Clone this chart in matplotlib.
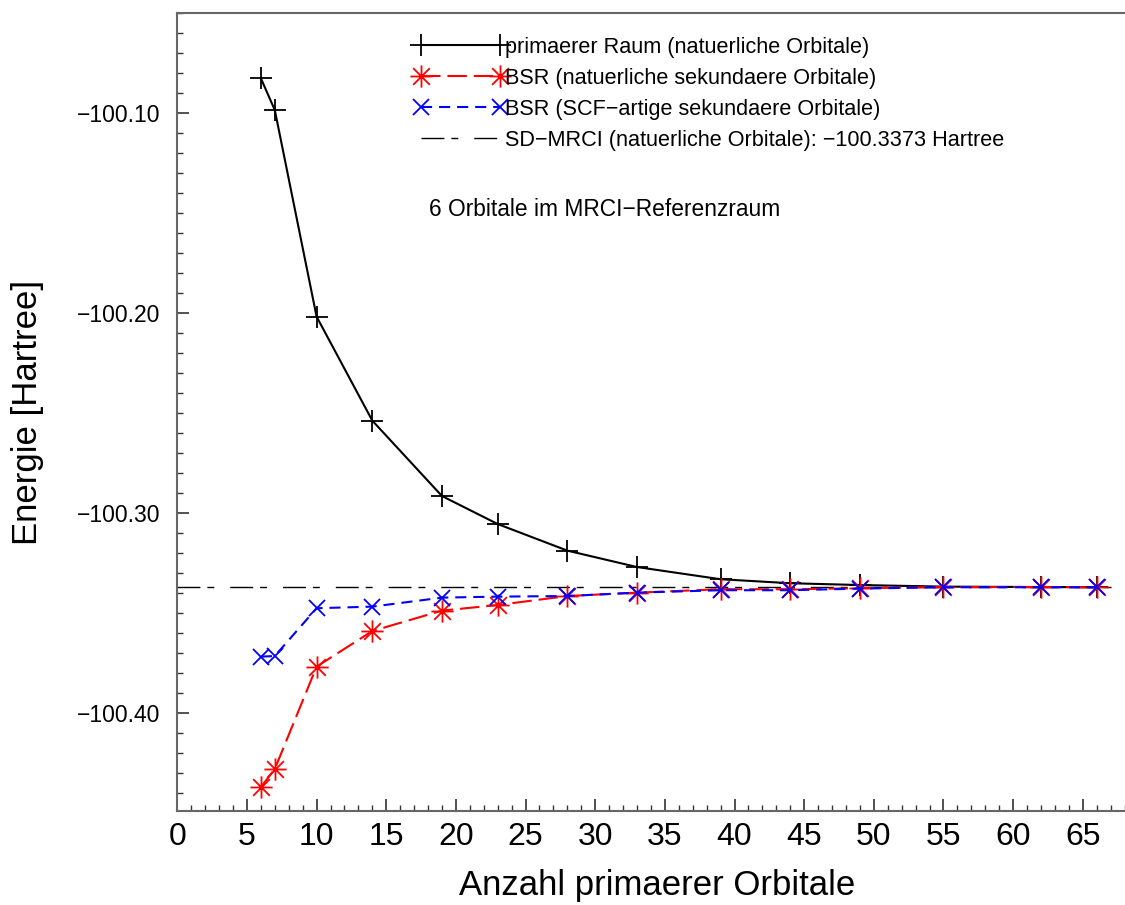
import numpy as np
import matplotlib
matplotlib.use('Agg')
import matplotlib.pyplot as plt
from matplotlib.path import Path
from matplotlib.ticker import MultipleLocator, FuncFormatter

plt.rcParams['font.family'] = ['Liberation Sans', 'DejaVu Sans']
plt.rcParams['lines.scale_dashes'] = False

# Anzahl primaerer Orbitale
n_orb = [6, 7, 10, 14, 19, 23, 28, 33, 39, 44, 49, 55, 62, 66]

# Energien in Hartree
e_primaer = [-100.0828, -100.0987, -100.2020, -100.2540, -100.2917, -100.3057, -100.3190,
             -100.3272, -100.3333, -100.3353, -100.3362, -100.3370, -100.3372, -100.3373]
e_bsr_nat = [-100.4373, -100.4282, -100.3770, -100.3592, -100.3490, -100.3462, -100.3417,
             -100.3400, -100.3383, -100.3383, -100.3378, -100.3372, -100.3372, -100.3373]
e_bsr_scf = [-100.3720, -100.3717, -100.3478, -100.3470, -100.3425, -100.3420, -100.3417,
             -100.3400, -100.3388, -100.3388, -100.3380, -100.3373, -100.3373, -100.3373]
e_mrci = -100.3373

labels = ['primaerer Raum (natuerliche Orbitale)',
          'BSR (natuerliche sekundaere Orbitale)',
          'BSR (SCF\u2212artige sekundaere Orbitale)',
          'SD\u2212MRCI (natuerliche Orbitale): \u2212100.3373 Hartree']

# asterisk marker: plus and cross overlaid
M, L = Path.MOVETO, Path.LINETO
stern = Path([(-1, 0), (1, 0), (0, -1), (0, 1),
              (-0.75, -0.75), (0.75, 0.75), (-0.75, 0.75), (0.75, -0.75)],
             [M, L, M, L, M, L, M, L])

W, H = 1125, 905
fig = plt.figure(figsize=(W / 100, H / 100), dpi=100)
ax = fig.add_axes([177.3 / W, 1 - 811 / H, (W - 177.3) / W, (811 - 12.7) / H])

l_mrci = ax.axhline(e_mrci, color='black', lw=1.0, ls=(0, (16.5, 5, 5, 11.5)), zorder=1)
l1, = ax.plot(n_orb, e_primaer, color='black', lw=1.5, marker='+', ms=16, mew=1.3, zorder=2)
l2, = ax.plot(n_orb, e_bsr_nat, color='red', lw=1.5, ls=(0, (14, 5)), marker=stern,
              ms=16, mew=1.3, zorder=3)
l3, = ax.plot(n_orb, e_bsr_scf, color='blue', lw=1.5, ls=(0, (8, 5)), marker='x',
              ms=12, mew=1.3, zorder=4)

ax.set_xlim(0, (W - 177.3) / 13.93)
ax.set_ylim(-100.4492, -100.05)

ax.xaxis.set_major_locator(MultipleLocator(5))
ax.xaxis.set_minor_locator(MultipleLocator(1))
ax.yaxis.set_major_locator(MultipleLocator(0.1))
ax.yaxis.set_minor_locator(MultipleLocator(0.01))
ax.yaxis.set_major_formatter(FuncFormatter(lambda v, p: ('%.2f' % v).replace('-', '\u2212')))

ax.tick_params(which='both', direction='in', color='#333333')
ax.tick_params(which='major', length=8.5, width=1.2)
ax.tick_params(which='minor', length=4, width=1.0)
ax.tick_params(axis='x', labelsize=23, pad=8)
ax.tick_params(axis='y', labelsize=16.5, pad=12)

for s in ['left', 'bottom', 'top']:
    ax.spines[s].set_color('#666666')
    ax.spines[s].set_linewidth(1.5)
ax.spines['right'].set_visible(False)

ax.legend([l1, l2, l3, l_mrci], labels, loc='upper left',
          bbox_to_anchor=((414.5 - 177.3) / (W - 177.3), 1 - (37 - 12.7) / (811 - 12.7)),
          frameon=False, fontsize=15.6, numpoints=2, handlelength=4.25,
          handletextpad=-0.08, labelspacing=0.46, borderpad=0, borderaxespad=0)

ax.text(18.07, -100.1485, '6 Orbitale im MRCI\u2212Referenzraum', fontsize=16.4,
        ha='left', va='center')

fig.text(28 / W, 1 - 412 / H, 'Energie [Hartree]', rotation=90, fontsize=25,
         ha='center', va='center')
fig.text(657 / W, 1 - 885 / H, 'Anzahl primaerer Orbitale', fontsize=25,
         ha='center', va='center')

fig.savefig('out.png', dpi=100)
